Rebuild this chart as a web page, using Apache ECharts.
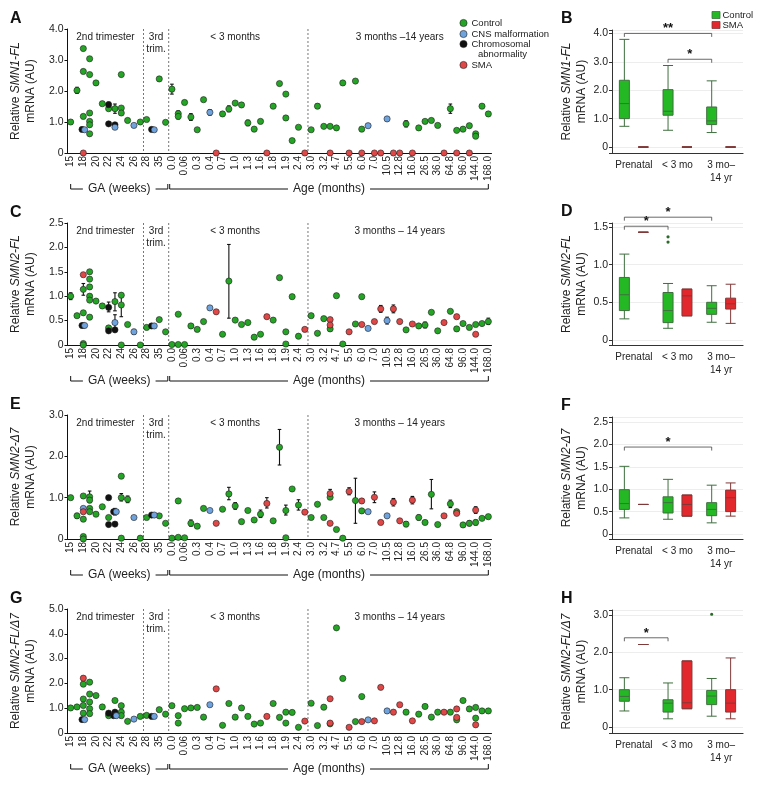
<!DOCTYPE html>
<html><head><meta charset="utf-8">
<script src="https://cdn.jsdelivr.net/npm/echarts@6/dist/echarts.min.js"></script>
<style>html,body{margin:0;padding:0;background:#fff}#c{width:765px;height:785px}</style>
</head><body><div id="c"></div><script>
// ---------- DATA ----------
const tickLabels = ['15','18','20','22','24','26','28','35','0.0','0.06','0.3','0.4','0.7','1.0','1.3','1.6','1.8','1.9','2.4','3.0','3.2','4.7','5.5','6.0','7.0','10.5','12.8','16.0','26.5','36.0','64.8','96.0','144.0','168.0'];
const slotCount = 67; // samples; every other one labelled
const groupNames = ['Control','CNS malformation','Chromosomal abnormality','SMA'];

const A_control = [[0,1.0],[1,2.02],[2,3.37],[2,2.63],[2,1.18],[3,3.04],[3,2.53],[3,1.29],[3,1.02],[3,0.91],[3,0.62],[4,2.26],[5,1.59],[6,1.43],[7,1.43],[8,2.53],[8,1.45],[8,1.29],[9,1.05],[11,1.0],[12,1.08],[14,2.39],[15,0.99],[16,2.06],[17,1.27],[17,1.18],[18,1.63],[19,1.16],[20,0.75],[21,1.72],[24,1.26],[25,1.42],[26,1.61],[27,1.55],[28,0.97],[29,0.77],[30,1.02],[32,1.51],[33,2.24],[34,1.90],[34,1.13],[35,0.40],[36,0.83],[38,0.75],[39,1.51],[40,0.86],[41,0.86],[42,0.81],[43,2.26],[45,2.32],[46,0.77],[53,0.94],[55,0.81],[56,1.02],[57,1.05],[58,0.89],[60,1.43],[61,0.73],[62,0.77],[63,0.88],[64,0.62],[64,0.54],[65,1.51],[66,1.26]];
const A_cns = [[2,0.75],[7,0.83],[10,0.89],[13,0.75],[22,1.31],[47,0.88],[50,1.10]];
const A_chrom = [[2,0.76],[6,1.56],[6,0.94],[7,0.91],[13,0.76]];
const A_sma = [[2,0],[23,0],[31,0],[37,0],[41,0],[44,0],[46,0],[48,0],[49,0],[51,0],[52,0],[54,0],[59,0],[61,0],[63,0]];
const A_err = [[0,0.94,1.06],[1,1.92,2.12],[2,3.31,3.43],[6,1.48,1.64],[7,1.28,1.58],[7,0.86,0.96],[16,1.9,2.22],[17,1.1,1.36],[19,1.05,1.27],[22,1.22,1.40],[25,1.33,1.52],[28,0.88,1.06],[39,1.44,1.58],[53,0.84,1.04],[60,1.28,1.58]];

const C_control = [[0,1.0],[1,0.60],[2,1.14],[2,0.66],[2,0.03],[2,0.0],[3,1.50],[3,1.35],[3,1.19],[3,1.00],[3,0.92],[3,0.57],[4,0.90],[5,0.80],[6,0.35],[7,0.89],[8,1.02],[8,0.82],[8,0],[9,0.42],[11,0],[12,0.36],[14,0.52],[15,0.27],[16,0.01],[17,0.63],[17,0.01],[18,0.01],[19,0.39],[20,0.32],[21,0.48],[24,0.22],[25,1.31],[26,0.51],[27,0.42],[28,0.46],[29,0.16],[30,0.22],[32,0.51],[33,1.38],[34,0.27],[34,0.02],[35,0.99],[36,0.18],[38,0.60],[39,0.24],[40,0.54],[41,0.33],[42,1.01],[43,0.02],[45,0.43],[46,0.99],[53,0.31],[55,0.39],[56,0.41],[57,0.67],[58,0.29],[60,0.69],[61,0.33],[62,0.44],[63,0.36],[64,0.42],[65,0.44],[66,0.48]];
const C_cns = [[2,0.40],[7,0.46],[10,0.27],[13,0.39],[22,0.76],[47,0.34],[50,0.50]];
const C_chrom = [[2,0.40],[6,0.77],[6,0.29],[7,0.31],[13,0.39]];
const C_sma = [[2,1.44],[23,0.68],[31,0.58],[37,0.32],[41,0.52],[41,0.41],[44,0.27],[46,0.42],[48,0.48],[49,0.74],[51,0.74],[52,0.48],[54,0.43],[59,0.46],[61,0.58],[64,0.22]];
const C_err = [[0,0.93,1.07],[2,1.02,1.26],[2,0.35,0.45],[6,0.68,0.88],[7,0.70,1.07],[7,0.31,0.62],[8,0.58,1.05],[10,0.22,0.32],[25,0.55,2.06],[49,0.67,0.81],[50,0.43,0.57],[51,0.66,0.82],[56,0.35,0.47],[66,0.42,0.55]];

const E_control = [[0,1.0],[1,0.56],[2,1.04],[2,0.48],[2,0.06],[2,0],[3,1.02],[3,0.94],[3,0.74],[3,0.66],[4,0.60],[5,0.78],[6,0.52],[8,1.52],[8,1.0],[8,0.02],[9,0.96],[11,0.02],[12,0.52],[14,0.56],[15,0.38],[16,0.02],[17,0.92],[17,0.04],[18,0.03],[19,0.38],[20,0.31],[21,0.74],[24,0.72],[25,1.09],[26,0.80],[27,0.42],[28,0.69],[29,0.46],[30,0.60],[32,0.44],[33,2.22],[34,0.69],[34,0.03],[35,1.21],[36,0.82],[38,0.52],[39,0.84],[40,0.52],[41,1.01],[42,0.23],[43,0.02],[45,0.93],[46,0.68],[53,0.36],[55,0.52],[56,0.40],[57,1.08],[58,0.35],[60,0.85],[61,0.66],[62,0.34],[63,0.38],[64,0.40],[65,0.50],[66,0.54]];
const E_cns = [[2,0.74],[7,0.66],[10,0.52],[13,0.58],[22,0.69],[47,0.66],[50,0.56]];
const E_chrom = [[6,1.00],[6,0.35],[7,0.36],[7,0.66],[13,0.58]];
const E_sma = [[2,0.66],[23,0.38],[31,0.86],[37,0.65],[41,1.10],[41,0.38],[44,1.15],[46,0.92],[48,1.01],[49,0.40],[51,0.89],[52,0.44],[54,0.94],[59,0.56],[61,0.62],[64,0.70]];
const E_err = [[1,0.50,0.62],[3,0.88,1.16],[7,0.58,0.74],[8,0.92,1.10],[9,0.88,1.04],[19,0.31,0.46],[25,0.95,1.25],[26,0.72,0.88],[30,0.52,0.70],[31,0.75,1.00],[33,1.79,2.65],[34,0.58,0.82],[36,0.70,0.95],[41,1.02,1.20],[44,1.07,1.24],[45,0.38,1.47],[48,0.88,1.14],[51,0.80,0.98],[53,0.30,0.42],[54,0.85,1.03],[55,0.46,0.58],[57,0.73,1.44],[60,0.76,0.94],[63,0.32,0.44],[64,0.62,0.78],[64,0.34,0.46]];

const G_control = [[0,1.01],[1,1.05],[2,1.97],[2,1.37],[2,1.11],[2,0.80],[3,2.05],[3,1.57],[3,1.25],[3,0.98],[3,0.78],[4,1.51],[5,1.05],[6,0.70],[7,1.31],[8,1.10],[8,0.84],[8,0.70],[9,0.47],[11,0.67],[12,0.71],[14,0.94],[15,0.76],[16,1.10],[17,0.70],[17,0.40],[18,0.98],[19,1.01],[20,1.03],[21,0.64],[24,0.31],[25,1.19],[26,0.64],[27,1.01],[28,0.67],[29,0.36],[30,0.40],[32,1.19],[33,0.63],[34,0.84],[34,0.40],[35,0.83],[36,0.23],[38,1.20],[39,0.30],[40,1.04],[41,0.37],[42,4.24],[43,2.20],[45,0.46],[46,1.47],[53,0.84],[55,0.76],[56,1.07],[57,0.64],[58,0.84],[60,0.84],[61,0.53],[62,1.31],[63,0.97],[64,1.03],[64,0.60],[65,0.89],[66,0.89]];
const G_cns = [[2,0.54],[7,0.70],[10,0.56],[13,0.67],[22,1.14],[47,0.53],[50,0.89]];
const G_chrom = [[2,0.54],[6,0.80],[7,0.84],[7,0.70],[13,0.67]];
const G_sma = [[2,2.21],[23,1.78],[31,0.67],[37,0.48],[41,1.38],[41,0.40],[44,0.23],[46,0.46],[48,0.49],[49,1.84],[51,0.84],[52,1.14],[54,0.49],[59,0.84],[61,0.97],[61,0.63],[64,0.33]];
const G_err = [];

// period dividers (between samples) and labels
const dividers = [11.5, 15.5, 37.5];
const periodSpans = [[0,11],[12,15],[16,36],[38,66]];
const periodLabelsA = ['2nd trimester','3rd\ntrim.','< 3 months','3 months \u201314 years'];
const periodLabels = ['2nd trimester','3rd\ntrim.','< 3 months','3 months \u2013 14 years'];
const ageSpans = [[0,15.35],[15.65,66]];
const ageLabels = ['GA (weeks)','Age (months)'];

// box plots: [min, Q1, median, Q3, max]
const boxCats = ['Prenatal','< 3 mo','3 mo\u2013\n14 yr'];
const B_control = [[0.73,1.0,1.53,2.35,3.79],[0.59,1.12,1.26,2.02,2.87],[0.51,0.79,0.92,1.41,2.33]];
const B_sma = [[0,0,0,0,0],[0,0,0,0,0],[0,0,0,0,0]];
const B_out = [];
const B_sig = [[0,2,4.0,'**'],[1,2,3.09,'*']];
const D_control = [[0.28,0.39,0.60,0.83,1.14],[0.155,0.23,0.39,0.63,0.75],[0.235,0.34,0.42,0.50,0.72]];
const D_sma = [[1.43,1.43,1.43,1.43,1.43],[0.32,0.32,0.586,0.675,0.675],[0.22,0.41,0.48,0.555,0.74]];
const D_out = [[1,1.37],[1,1.30]];
const D_sig = [[0,1,1.51,'*'],[0,2,1.63,'*']];
const F_control = [[0.36,0.55,0.68,0.99,1.51],[0.33,0.47,0.70,0.83,1.22],[0.25,0.41,0.55,0.70,1.09]];
const F_sma = [[0.66,0.66,0.66,0.66,0.66],[0.40,0.40,0.66,0.87,0.87],[0.40,0.50,0.81,0.98,1.14]];
const F_out = [];
const F_sig = [[0,2,1.94,'*']];
const H_control = [[0.43,0.69,0.82,1.00,1.32],[0.22,0.40,0.64,0.73,1.18],[0.29,0.60,0.83,0.98,1.30]];
const H_sma = [[2.21,2.21,2.21,2.21,2.21],[0.49,0.49,0.65,1.77,1.77],[0.22,0.40,0.64,1.00,1.85]];
const H_out = [[2,3.02]];
const H_sig = [[0,1,2.39,'*']];

// ---------- STYLE / LAYOUT ----------
const FONT = '"Liberation Sans", Arial, Helvetica, sans-serif';
const TXT = '#222';
const groupColors = ['#25a525','#6fa3de','#111111','#e04747'];
const boxColors = [['#24b824','#3f6f3f'],['#e2282c','#803838']];

const slots = [];
for (let i = 0; i < slotCount; i++) slots.push(i % 2 === 0 ? tickLabels[i / 2] : '');

const fmt1 = v => (Math.abs(v) < 1e-9 ? '0' : v.toFixed(1));
const scatterPanels = [
  {top:29, h:124, max:4, iv:1, title:'Relative {i|SMN1-FL}\nmRNA (AU)', d:[A_control,A_cns,A_chrom,A_sma], err:A_err, labels:periodLabelsA, letter:'A'},
  {top:223, h:122, max:2.5, iv:0.5, title:'Relative {i|SMN2-FL}\nmRNA (AU)', d:[C_control,C_cns,C_chrom,C_sma], err:C_err, labels:periodLabels, letter:'C'},
  {top:415, h:124, max:3, iv:1, title:'Relative {i|SMN2-\u03947}\nmRNA (AU)', d:[E_control,E_cns,E_chrom,E_sma], err:E_err, labels:periodLabels, letter:'E'},
  {top:609, h:124, max:5, iv:1, title:'Relative {i|SMN2-FL/\u03947}\nmRNA (AU)', d:[G_control,G_cns,G_chrom,G_sma], err:G_err, labels:periodLabels, letter:'G'}
];
const boxPanels = [
  {top:30, h:123, min:-0.21, max:4.12, iv:1, title:'Relative {i|SMN1-FL}\nmRNA (AU)', c:B_control, s:B_sma, out:B_out, sig:B_sig, letter:'B'},
  {top:223, h:122, min:-0.067, max:1.553, iv:0.5, title:'Relative {i|SMN2-FL}\nmRNA (AU)', c:D_control, s:D_sma, out:D_out, sig:D_sig, letter:'D'},
  {top:417, h:122, min:-0.11, max:2.61, iv:0.5, title:'Relative {i|SMN2-\u03947}\nmRNA (AU)', c:F_control, s:F_sma, out:F_out, sig:F_sig, letter:'F'},
  {top:610, h:123, min:-0.16, max:3.134, iv:1, title:'Relative {i|SMN2-FL/\u03947}\nmRNA (AU)', c:H_control, s:H_sma, out:H_out, sig:H_sig, letter:'H'}
];

function xAt(api, v) {
  const f = Math.floor(v), c = Math.ceil(v);
  const x0 = api.coord([f, 0])[0];
  if (f === c) return x0;
  const x1 = api.coord([c, 0])[0];
  return x0 + (x1 - x0) * (v - f);
}
function dodge(api, idx) {
  const bw = api.size([1, 0])[0];
  const avail = bw * 0.8 - 2;
  const gap = avail / 2 * 0.3;
  const w = (avail - gap) / 2;
  return w / 2 - avail / 2 + idx * (gap + w);
}
// points of CNS and chromosomal groups that coincide are drawn side by side
function withOverlapOffset(points, others, dx) {
  return points.map(pt => {
    const hit = others.some(o => o[0] === pt[0] && Math.abs(o[1] - pt[1]) < 0.04);
    return hit ? {value: pt, symbolOffset: [dx, 0]} : pt;
  });
}
const nameStyle = {fontSize:12, color:TXT, fontFamily:FONT, lineHeight:15, rich:{i:{fontStyle:'italic', fontSize:12, color:TXT, fontFamily:FONT, lineHeight:15}}};

const grids = [], xAxes = [], yAxes = [], series = [], graphics = [];

scatterPanels.forEach((p, i) => {
  grids.push({left:59.5, top:p.top, width:432, height:p.h});
  xAxes.push({type:'category', gridIndex:i, data:slots, boundaryGap:true,
    axisLine:{lineStyle:{color:'#111', width:1}},
    axisTick:{interval:0, alignWithLabel:true, length:3, lineStyle:{color:'#111'}},
    axisLabel:{interval:0, rotate:90, fontSize:10, color:TXT, margin:3, fontFamily:FONT},
    splitLine:{show:false}});
  yAxes.push({type:'value', gridIndex:i, min:0, max:p.max, interval:p.iv,
    axisLine:{show:true, lineStyle:{color:'#111', width:1}},
    axisTick:{show:true, length:3, lineStyle:{color:'#111'}},
    axisLabel:{formatter:fmt1, fontSize:10.5, color:TXT, margin:4, fontFamily:FONT},
    splitLine:{show:false},
    name:p.title, nameLocation:'middle', nameRotate:90, nameGap:19, nameTextStyle:nameStyle});
  // error bars
  const err = p.err;
  series.push({type:'custom', xAxisIndex:i, yAxisIndex:i, z:2, silent:true,
    data: err.map(e => [e[0], e[1], e[2]]), encode:{x:0, y:[1,2]},
    renderItem:(params, api) => {
      const e = err[params.dataIndex];
      const a = api.coord([e[0], e[1]]), b = api.coord([e[0], e[2]]);
      const st = {stroke:'#111', lineWidth:1.1};
      return {type:'group', children:[
        {type:'line', shape:{x1:a[0], y1:a[1], x2:b[0], y2:b[1]}, style:st},
        {type:'line', shape:{x1:a[0]-1.8, y1:a[1], x2:a[0]+1.8, y2:a[1]}, style:st},
        {type:'line', shape:{x1:b[0]-1.8, y1:b[1], x2:b[0]+1.8, y2:b[1]}, style:st}]};
    }});
  const zOrder = [3, 5, 4, 6];
  p.d.forEach((d, g) => {
    let data = d;
    if (g === 1) data = withOverlapOffset(d, p.d[2], 1.3);
    if (g === 2) data = withOverlapOffset(d, p.d[1], -1.3);
    series.push({type:'scatter', name:groupNames[g], xAxisIndex:i, yAxisIndex:i, data:data,
      symbol:'circle', symbolSize:6.2, z:zOrder[g], silent:true,
      itemStyle:{color:groupColors[g], borderColor:'#1e1e1e', borderWidth:0.6, opacity:1}});
  });
  // dividers + period labels + GA/Age brackets
  series.push({type:'custom', xAxisIndex:i, yAxisIndex:i, z:1, silent:true,
    data: dividers.map(() => [0, 0]),
    renderItem:(params, api) => {
      const cs = params.coordSys;
      const x = xAt(api, dividers[params.dataIndex]);
      return {type:'line', shape:{x1:x, y1:cs.y, x2:x, y2:cs.y + cs.height},
        style:{stroke:'#555', lineWidth:0.8, lineDash:[2, 2]}};
    }});
  const labs = p.labels;
  series.push({type:'custom', xAxisIndex:i, yAxisIndex:i, z:6, silent:true,
    data: periodSpans.map(() => [0, 0]),
    renderItem:(params, api) => {
      const cs = params.coordSys;
      const s = periodSpans[params.dataIndex];
      const x = (xAt(api, s[0]) + xAt(api, s[1])) / 2;
      return {type:'text', style:{text:labs[params.dataIndex], x:x, y:cs.y + 1.5, align:'center', verticalAlign:'top',
        fontSize:10, lineHeight:12.5, fontFamily:FONT, fill:TXT}};
    }});
  series.push({type:'custom', xAxisIndex:i, yAxisIndex:i, z:6, silent:true,
    data: ageSpans.map(() => [0, 0]),
    renderItem:(params, api) => {
      const cs = params.coordSys;
      const s = ageSpans[params.dataIndex];
      const x0 = xAt(api, s[0]), x1 = xAt(api, s[1]);
      const y = cs.y + cs.height + 36;
      return {type:'group', children:[
        {type:'polyline', shape:{points:[[x0, y - 5], [x0, y], [x1, y], [x1, y - 5]]}, style:{stroke:'#111', lineWidth:1, fill:null}},
        {type:'text', z2:10, style:{text:ageLabels[params.dataIndex], x:(x0 + x1) / 2, y:y, align:'center', verticalAlign:'middle',
          fontSize:12, fontFamily:FONT, fill:TXT, backgroundColor:'#fff', padding:[0, 5]}}]};
    }});
  graphics.push({type:'text', left:10, top:p.top - 18, style:{text:p.letter, fontSize:16, fontWeight:'bold', fontFamily:FONT, fill:'#111'}});
});

boxPanels.forEach((p, j) => {
  const gi = 4 + j;
  grids.push({left:612, top:p.top, width:131, height:p.h});
  xAxes.push({type:'category', gridIndex:gi, data:boxCats,
    axisLine:{onZero:false, lineStyle:{color:'#333', width:1.2}},
    axisTick:{show:false},
    axisLabel:{interval:0, fontSize:10, color:TXT, margin:6, lineHeight:13, fontFamily:FONT, hideOverlap:false}});
  yAxes.push({type:'value', gridIndex:gi, min:p.min, max:p.max, minInterval:p.iv, maxInterval:p.iv,
    axisLine:{show:true, lineStyle:{color:'#333', width:1}},
    axisTick:{show:true, length:3, lineStyle:{color:'#333'}},
    axisLabel:{fontSize:10.5, color:TXT, margin:4, fontFamily:FONT,
      formatter:v => { const r = Math.round(v / p.iv) * p.iv; return Math.abs(r - v) > 1e-6 ? '' : fmt1(r); }},
    splitLine:{show:true, lineStyle:{color:'#ededed', width:1}},
    name:p.title, nameLocation:'middle', nameRotate:90, nameGap:17, nameTextStyle:nameStyle});
  [p.c, p.s].forEach((d, k) => series.push({type:'boxplot', name:k ? 'SMA' : 'Control', xAxisIndex:gi, yAxisIndex:gi, data:d,
    boxWidth:[10, 10], silent:true,
    itemStyle:{color:boxColors[k][0], borderColor:boxColors[k][1], borderWidth:1}}));
  const out = p.out, sig = p.sig;
  series.push({type:'custom', xAxisIndex:gi, yAxisIndex:gi, z:5, silent:true,
    data: out.map(o => [o[0], o[1]]),
    renderItem:(params, api) => {
      const o = out[params.dataIndex];
      const pt = api.coord([o[0], o[1]]);
      return {type:'circle', shape:{cx:pt[0] + dodge(api, 0), cy:pt[1], r:1.6}, style:{fill:'#2c6a2c'}};
    }});
  series.push({type:'custom', xAxisIndex:gi, yAxisIndex:gi, z:5, silent:true,
    data: sig.map(() => [0, 0]),
    renderItem:(params, api) => {
      const d = sig[params.dataIndex];
      const off = dodge(api, 0);
      const a = api.coord([d[0], d[2]]), b = api.coord([d[1], d[2]]);
      const x1 = a[0] + off, x2 = b[0] + off, y = a[1];
      return {type:'group', children:[
        {type:'polyline', shape:{points:[[x1, y + 3.5], [x1, y], [x2, y], [x2, y + 3.5]]}, style:{stroke:'#444', lineWidth:0.8, fill:null}},
        {type:'text', style:{text:d[3], x:(x1 + x2) / 2, y:y + 2, align:'center', verticalAlign:'bottom', fontSize:13, fontWeight:'bold', fontFamily:FONT, fill:'#111'}}]};
    }});
  graphics.push({type:'text', left:561, top:p.top - 19, style:{text:p.letter, fontSize:16, fontWeight:'bold', fontFamily:FONT, fill:'#111'}});
});

// scatter legend (panel A)
const legY = [23, 34, 44, 65];
groupNames.forEach((n, g) => {
  graphics.push({type:'circle', shape:{cx:463.5, cy:legY[g], r:3.6}, style:{fill:groupColors[g], stroke:'#1e1e1e', lineWidth:0.6}});
  graphics.push({type:'text', x:471.5, y:legY[g], style:{text:g === 2 ? 'Chromosomal' : n, fontSize:9.5, fontFamily:FONT, fill:TXT, verticalAlign:'middle'}});
});
graphics.push({type:'text', x:478, y:54.5, style:{text:'abnormality', fontSize:9.5, fontFamily:FONT, fill:TXT, verticalAlign:'middle'}});
// box legend (panel B)
[['Control', 15], ['SMA', 25]].forEach((l, k) => {
  graphics.push({type:'rect', shape:{x:712, y:l[1] - 3.5, width:8, height:7}, style:{fill:boxColors[k][0], stroke:boxColors[k][1], lineWidth:0.8}});
  graphics.push({type:'text', x:722.5, y:l[1], style:{text:l[0], fontSize:9.5, fontFamily:FONT, fill:TXT, verticalAlign:'middle'}});
});

const chart = echarts.init(document.getElementById('c'));
chart.setOption({
  animation:false, backgroundColor:'#fff',
  textStyle:{fontFamily:FONT},
  grid:grids, xAxis:xAxes, yAxis:yAxes, series:series, graphic:graphics
});
</script></body></html>
